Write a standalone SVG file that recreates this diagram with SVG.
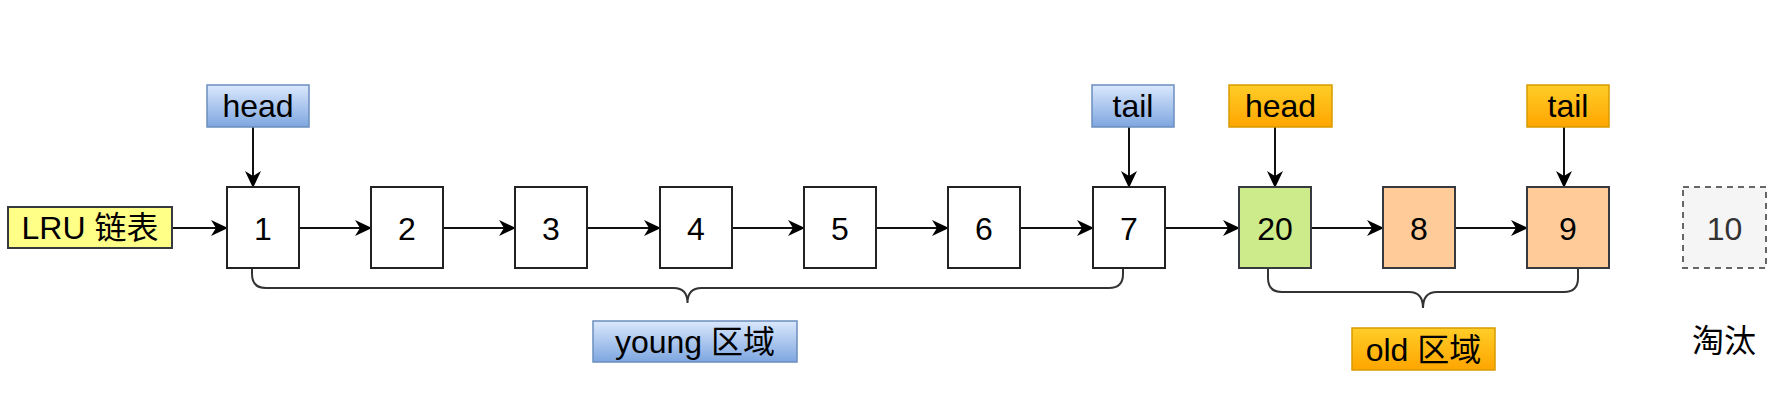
<svg xmlns="http://www.w3.org/2000/svg" width="1779" height="417" viewBox="0 0 1779 417">
<defs>
<linearGradient id="gBlue" x1="0" y1="0" x2="0" y2="1"><stop offset="0" stop-color="#dae8fc"/><stop offset="1" stop-color="#7ea6e0"/></linearGradient>
<linearGradient id="gOrange" x1="0" y1="0" x2="0" y2="1"><stop offset="0" stop-color="#ffcd28"/><stop offset="1" stop-color="#ffa500"/></linearGradient>
<marker id="arr" markerUnits="userSpaceOnUse" markerWidth="17" markerHeight="16" refX="16" refY="8" orient="auto"><path d="M0,0 L17,8 L0,16 L5,8 Z" fill="#000"/></marker>
<style>
text{font-family:"Liberation Sans","Noto Sans CJK SC",sans-serif;font-size:32px;fill:#000;text-anchor:middle}
.node{fill:#fff;stroke:#222;stroke-width:2}
.green{fill:#cdeb8b;stroke:#36393d;stroke-width:2}
.peach{fill:#ffcc99;stroke:#36393d;stroke-width:2}
.gone{fill:#f5f5f5;stroke:#666;stroke-width:2;stroke-dasharray:6 5}
.blue{fill:url(#gBlue);stroke:#6c8ebf;stroke-width:1.5}
.orange{fill:url(#gOrange);stroke:#d79b00;stroke-width:1.5}
.yellow{fill:#ffff88;stroke:#36393d;stroke-width:2}
.link{fill:none;stroke:#111;stroke-width:2;marker-end:url(#arr)}
.brace{fill:none;stroke:#333;stroke-width:2}
</style>
</defs>
<rect width="1779" height="417" fill="#fff"/>

<g id="connectors">
<line class="link" x1="172" y1="228" x2="227" y2="228"/>
<line class="link" x1="299" y1="228" x2="371" y2="228"/>
<line class="link" x1="443" y1="228" x2="515" y2="228"/>
<line class="link" x1="587" y1="228" x2="660" y2="228"/>
<line class="link" x1="732" y1="228" x2="804" y2="228"/>
<line class="link" x1="876" y1="228" x2="948" y2="228"/>
<line class="link" x1="1020" y1="228" x2="1093" y2="228"/>
<line class="link" x1="1165" y1="228" x2="1239" y2="228"/>
<line class="link" x1="1311" y1="228" x2="1383" y2="228"/>
<line class="link" x1="1455" y1="228" x2="1527" y2="228"/>
<line class="link" x1="253" y1="127" x2="253" y2="187"/>
<line class="link" x1="1129" y1="127" x2="1129" y2="187"/>
<line class="link" x1="1275" y1="127" x2="1275" y2="187"/>
<line class="link" x1="1564" y1="127" x2="1564" y2="187"/>
<path class="brace" d="M252,268 V274 Q252,288 266,288 H673.5 Q687.5,288 687.5,303 Q687.5,288 701.5,288 H1109 Q1123,288 1123,274 V268"/>
<path class="brace" d="M1268,268 V278 Q1268,292 1282,292 H1409 Q1423,292 1423,308 Q1423,292 1437,292 H1564 Q1578,292 1578,278 V268"/>
</g>

<g id="lru"><rect class="yellow" x="8" y="207" width="164" height="41"/><text x="90" y="239">LRU 链表</text></g>

<g id="head-young"><rect class="blue" x="207" y="85" width="102" height="42"/><text x="258" y="117">head</text></g>
<g id="tail-young"><rect class="blue" x="1092" y="85" width="82" height="42"/><text x="1133" y="117">tail</text></g>
<g id="head-old"><rect class="orange" x="1229" y="85" width="103" height="42"/><text x="1280.5" y="117">head</text></g>
<g id="tail-old"><rect class="orange" x="1527" y="85" width="82" height="42"/><text x="1568" y="117">tail</text></g>

<g id="n1"><rect class="node" x="227" y="187" width="72" height="81"/><text x="263" y="239.5">1</text></g>
<g id="n2"><rect class="node" x="371" y="187" width="72" height="81"/><text x="407" y="239.5">2</text></g>
<g id="n3"><rect class="node" x="515" y="187" width="72" height="81"/><text x="551" y="239.5">3</text></g>
<g id="n4"><rect class="node" x="660" y="187" width="72" height="81"/><text x="696" y="239.5">4</text></g>
<g id="n5"><rect class="node" x="804" y="187" width="72" height="81"/><text x="840" y="239.5">5</text></g>
<g id="n6"><rect class="node" x="948" y="187" width="72" height="81"/><text x="984" y="239.5">6</text></g>
<g id="n7"><rect class="node" x="1093" y="187" width="72" height="81"/><text x="1129" y="239.5">7</text></g>
<g id="n20"><rect class="green" x="1239" y="187" width="72" height="81"/><text x="1275" y="239.5">20</text></g>
<g id="n8"><rect class="peach" x="1383" y="187" width="72" height="81"/><text x="1419" y="239.5">8</text></g>
<g id="n9"><rect class="peach" x="1527" y="187" width="82" height="81"/><text x="1568" y="239.5">9</text></g>
<g id="n10"><rect class="gone" x="1683" y="187" width="83" height="81"/><text x="1724.5" y="239.5" style="fill:#333">10</text></g>

<g id="young-label"><rect class="blue" x="593" y="321" width="204" height="41"/><text x="695" y="353">young 区域</text></g>
<g id="old-label"><rect class="orange" x="1352" y="328" width="143" height="42"/><text x="1423.5" y="360.5">old 区域</text></g>
<g id="evict-label"><text x="1724" y="352">淘汰</text></g>
</svg>
